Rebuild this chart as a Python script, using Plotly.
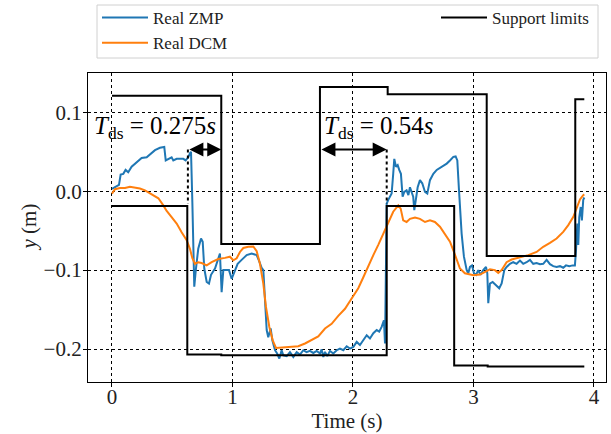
import plotly.graph_objects as go

# ---------------- data ----------------
zmp_t = [0.0, 0.025, 0.058, 0.072, 0.094, 0.113, 0.135, 0.163, 0.205, 0.246, 0.288, 0.329, 0.357, 0.398, 0.434,
         0.446, 0.468, 0.495, 0.509, 0.537, 0.564, 0.592, 0.611, 0.633, 0.647, 0.656, 0.667, 0.675, 0.683, 0.697,
         0.716, 0.739, 0.753, 0.766, 0.786, 0.805, 0.822, 0.855, 0.882, 0.896, 0.910, 0.924, 0.952, 0.971, 0.993,
         1.015, 1.043, 1.076, 1.118, 1.159, 1.201, 1.220, 1.242, 1.256, 1.270, 1.284, 1.297, 1.317, 1.331, 1.353,
         1.372, 1.389, 1.408, 1.422, 1.450, 1.477, 1.505, 1.533, 1.560, 1.588, 1.615, 1.643, 1.671, 1.699, 1.726,
         1.740, 1.754, 1.768, 1.787, 1.809, 1.837, 1.865, 1.892, 1.920, 1.948, 1.975, 2.003, 2.031, 2.058, 2.086,
         2.114, 2.141, 2.169, 2.197, 2.218, 2.238, 2.257, 2.266, 2.280, 2.293, 2.321, 2.334, 2.343, 2.357, 2.371,
         2.384, 2.398, 2.412, 2.426, 2.445, 2.460, 2.473, 2.487, 2.500, 2.509, 2.523, 2.537, 2.556, 2.575, 2.598,
         2.617, 2.639, 2.667, 2.695, 2.736, 2.778, 2.805, 2.833, 2.852, 2.866, 2.880, 2.902, 2.921, 2.944, 2.957,
         2.971, 2.988, 3.004, 3.021, 3.040, 3.059, 3.081, 3.104, 3.115, 3.123, 3.137, 3.159, 3.187, 3.214, 3.234,
         3.256, 3.275, 3.303, 3.330, 3.358, 3.386, 3.413, 3.441, 3.469, 3.496, 3.524, 3.552, 3.579, 3.607, 3.635,
         3.662, 3.690, 3.718, 3.745, 3.768, 3.795, 3.823, 3.842, 3.851, 3.862, 3.870, 3.878, 3.890, 3.900, 3.911,
         3.920]
zmp_y = [0.003, 0.005, 0.008, 0.021, 0.022, 0.027, 0.024, 0.031, 0.037, 0.042, 0.043, 0.048, 0.052, 0.055, 0.056,
         0.039, 0.041, 0.043, 0.039, 0.041, 0.041, 0.041, 0.039, 0.043, 0.048, 0.050, -0.014, -0.090, -0.121, -0.098,
         -0.073, -0.060, -0.064, -0.098, -0.115, -0.117, -0.106, -0.098, -0.085, -0.079, -0.128, -0.100, -0.100, -0.100, -0.111,
         -0.102, -0.092, -0.087, -0.081, -0.079, -0.081, -0.088, -0.097, -0.100, -0.134, -0.176, -0.185, -0.174, -0.189, -0.2015,
         -0.206, -0.212, -0.2015, -0.208, -0.209, -0.204, -0.210, -0.204, -0.207, -0.2015, -0.204, -0.2024, -0.205, -0.2024, -0.2057,
         -0.2006, -0.210, -0.2037, -0.209, -0.2024, -0.2057, -0.2015, -0.1994, -0.2015, -0.1965, -0.1994, -0.1973, -0.191, -0.195, -0.189,
         -0.1825, -0.1867, -0.180, -0.176, -0.178, -0.172, -0.1635, -0.193, -0.0156, -0.011, -0.003, 0.022, 0.041, 0.031, 0.033,
         0.027, 0.022, -0.007, -0.001, 0.001, -0.005, 0.005, -0.001, -0.007, -0.024, -0.009, 0.005, 0.014, 0.010, -0.001,
         -0.003, 0.014, 0.022, 0.027, 0.031, 0.035, 0.039, 0.0435, 0.044, 0.039, 0.001, -0.054, -0.083, -0.100, -0.104,
         -0.096, -0.094, -0.104, -0.106, -0.100, -0.106, -0.100, -0.096, -0.104, -0.142, -0.117, -0.115, -0.119, -0.123, -0.117,
         -0.100, -0.096, -0.092, -0.090, -0.092, -0.088, -0.092, -0.090, -0.087, -0.092, -0.091, -0.0925, -0.092, -0.087, -0.0925,
         -0.095, -0.096, -0.095, -0.097, -0.094, -0.095, -0.094, -0.094, -0.075, -0.041, -0.068, -0.033, -0.020, -0.037, -0.011,
         -0.008]

dcm_t = [0.0, 0.025, 0.066, 0.108, 0.149, 0.191, 0.232, 0.274, 0.329, 0.385, 0.426, 0.454, 0.495, 0.537, 0.578,
         0.620, 0.647, 0.667, 0.689, 0.716, 0.744, 0.786, 0.827, 0.882, 0.938, 0.979, 1.007, 1.035, 1.062, 1.090,
         1.131, 1.173, 1.201, 1.228, 1.256, 1.278, 1.306, 1.334, 1.361, 1.408, 1.477, 1.546, 1.602, 1.657, 1.712,
         1.768, 1.823, 1.878, 1.934, 1.989, 2.044, 2.086, 2.127, 2.169, 2.210, 2.251, 2.293, 2.334, 2.376, 2.396,
         2.417, 2.445, 2.473, 2.515, 2.556, 2.598, 2.639, 2.680, 2.722, 2.763, 2.805, 2.838, 2.861, 2.888, 2.929,
         2.971, 3.000, 3.054, 3.095, 3.137, 3.178, 3.206, 3.234, 3.275, 3.317, 3.386, 3.455, 3.524, 3.579, 3.635,
         3.690, 3.745, 3.787, 3.829, 3.862, 3.884, 3.911, 3.920]
dcm_y = [-0.003, 0.0025, 0.004, 0.004, 0.0055, 0.0047, 0.0034, 0.001, -0.004, -0.009, -0.018, -0.025, -0.033, -0.041, -0.052,
         -0.062, -0.073, -0.085, -0.092, -0.090, -0.091, -0.094, -0.090, -0.086, -0.0845, -0.083, -0.0875, -0.085, -0.077, -0.072,
         -0.0705, -0.070, -0.076, -0.092, -0.117, -0.1466, -0.172, -0.189, -0.1986, -0.198, -0.1965, -0.1965, -0.193, -0.189, -0.184,
         -0.174, -0.168, -0.158, -0.149, -0.136, -0.123, -0.109, -0.094, -0.081, -0.068, -0.054, -0.041, -0.026, -0.018, -0.022,
         -0.037, -0.039, -0.035, -0.0335, -0.035, -0.039, -0.037, -0.039, -0.045, -0.054, -0.064, -0.077, -0.0875, -0.098, -0.104,
         -0.1056, -0.1065, -0.1056, -0.102, -0.099, -0.100, -0.1035, -0.100, -0.090, -0.0866, -0.084, -0.081, -0.077, -0.0705, -0.0655,
         -0.060, -0.0515, -0.043, -0.0325, -0.020, -0.0105, -0.005, -0.004]

upper_t = [0.0, 0.907, 1.726, 2.288, 3.110, 3.845, 3.920]
upper_y = [0.121, -0.067, 0.132, 0.123, -0.082, 0.1165, 0.1165]
lower_t = [0.0, 0.625, 0.907, 2.280, 2.840, 3.118, 3.920]
lower_y = [-0.0186, -0.207, -0.208, -0.0186, -0.221, -0.222, -0.222]

ds_start = [0.630, 1.726]
ds_end = [0.907, 2.280]
ds_marker_t = [0.630, 2.280]
ds_label_x = [-0.166, 1.743]
ds_labels = ["0.275", "0.54"]
arrow_y = 0.053
label_y = 0.081
dotted_bottom = -0.016

x_ticks = [0, 1, 2, 3, 4]
y_ticks = [0.1, 0.0, -0.1, -0.2]

# ---------------- figure ----------------
FONT = "Liberation Serif"
W, H = 611, 434
ML, MR, MT, MB = 88, 5, 73, 52
PW, PH = W - ML - MR, H - MT - MB

fig = go.Figure()
fig.add_trace(go.Scatter(x=zmp_t, y=zmp_y, mode="lines", name="Real ZMP", legend="legend",
                         line=dict(color="#1f77b4", width=2)))
fig.add_trace(go.Scatter(x=dcm_t, y=dcm_y, mode="lines", name="Real DCM", legend="legend",
                         line=dict(color="#ff7f0e", width=2)))
fig.add_trace(go.Scatter(x=upper_t, y=upper_y, mode="lines", name="Support limits", legend="legend2",
                         line=dict(color="black", width=2, shape="hv"), legendgroup="sup"))
fig.add_trace(go.Scatter(x=lower_t, y=lower_y, mode="lines", name="Support limits", showlegend=False,
                         legend="legend2", line=dict(color="black", width=2, shape="hv"), legendgroup="sup"))

# dotted markers
for xm in ds_marker_t:
    fig.add_trace(go.Scatter(x=[xm, xm], y=[arrow_y, dotted_bottom], mode="lines", showlegend=False,
                             line=dict(color="black", width=2, dash="dot"), hoverinfo="skip"))

# double arrows and labels
for xs, xe, lx, lab in zip(ds_start, ds_end, ds_label_x, ds_labels):
    fig.add_annotation(x=xe, y=arrow_y, ax=xs, ay=arrow_y, xref="x", yref="y", axref="x", ayref="y",
                       showarrow=True, arrowhead=2, startarrowhead=2, arrowside="end+start",
                       arrowsize=1.4, startarrowsize=1.4, arrowwidth=2, arrowcolor="black", text="")
    fig.add_annotation(x=lx, y=label_y, xref="x", yref="y", xanchor="left", yanchor="middle", showarrow=False,
                       text="<i>T</i><sub>ds</sub> = " + lab + "<i>s</i>",
                       font=dict(family=FONT, size=25, color="black"))

# y-axis title (as a rotated annotation for exact placement)
fig.add_annotation(x=(28 - ML) / PW, y=0.5, xref="paper", yref="paper", xanchor="center", yanchor="middle",
                   textangle=-90, showarrow=False, text="<i>y</i> (m)",
                   font=dict(family=FONT, size=21, color="#222"))

axis_common = dict(showline=True, mirror=True, linecolor="black", linewidth=1.2,
                   ticks="outside", ticklen=4, tickcolor="black",
                   showgrid=True, gridcolor="black", gridwidth=0.7, griddash="dot",
                   zeroline=False, tickfont=dict(family=FONT, size=21, color="#222"))

fig.update_xaxes(range=[-0.199, 4.10], tickvals=x_ticks, ticktext=[str(v) for v in x_ticks],
                 ticklabelstandoff=-8,
                 title=dict(text="Time (s)", font=dict(family=FONT, size=21, color="#222"), standoff=2),
                 **axis_common)
fig.update_yaxes(range=[-0.2418, 0.1498], tickvals=y_ticks,
                 ticktext=["0.1", "0.0", "\u22120.1", "\u22120.2"],
                 ticklabelstandoff=-3,
                 **axis_common)

# legend frame (pixels -> paper coords)
bx0, bx1, by0, by1 = 97, 598, 5, 58
fig.add_shape(type="rect", xref="paper", yref="paper", layer="below",
              x0=(bx0 - ML) / PW, x1=(bx1 - ML) / PW,
              y0=(H - MB - by1) / PH, y1=(H - MB - by0) / PH,
              line=dict(color="#d0d0d0", width=1), fillcolor="white")

leg_common = dict(orientation="v", xanchor="left", yanchor="top", xref="container", yref="container",
                  itemwidth=46, bgcolor="rgba(0,0,0,0)", borderwidth=0, tracegroupgap=0,
                  font=dict(family=FONT, size=17, color="#222"))
fig.update_layout(
    width=W, height=H,
    margin=dict(l=ML, r=MR, t=MT, b=MB, autoexpand=False),
    plot_bgcolor="white", paper_bgcolor="white",
    font=dict(family=FONT, color="#222"),
    showlegend=True,
    legend=dict(x=97 / W, y=1.0, **leg_common),
    legend2=dict(x=436 / W, y=1.0, **leg_common),
)

post = ("document.body.style.margin='0';document.body.style.padding='0';"
        "var gd=document.getElementById('{plot_id}');"
        "Plotly.react(gd, gd.data, gd.layout);")
fig.write_html("out.html", config={"displayModeBar": False}, post_script=post)
